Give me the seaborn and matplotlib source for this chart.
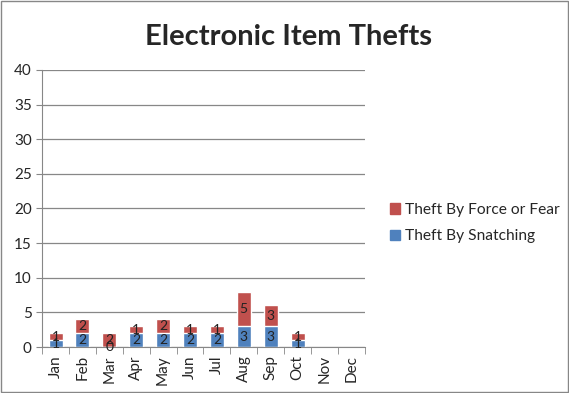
import numpy as np
import pandas as pd
import matplotlib
matplotlib.use("Agg")
import matplotlib.pyplot as plt
import seaborn as sns
from matplotlib.patches import Patch

months = ["Jan", "Feb", "Mar", "Apr", "May", "Jun", "Jul", "Aug", "Sep", "Oct", "Nov", "Dec"]
snatching = [1, 2, 0, 2, 2, 2, 2, 3, 3, 1, np.nan, np.nan]
force_fear = [1, 2, 2, 1, 2, 1, 1, 5, 3, 1, np.nan, np.nan]

df = pd.DataFrame({"month": months, "snatch": snatching, "force": force_fear})
df["total"] = df["snatch"] + df["force"]

sns.set_style("white")
plt.rcParams["font.family"] = ["Lato", "DejaVu Sans"]

fig = plt.figure(figsize=(5.69, 3.93), dpi=100)
ax = fig.add_axes([0.074, 0.117, 0.567, 0.705])

red = "#C0504D"
blue = "#4F81BD"

sns.barplot(data=df, x="month", y="total", color=red, width=0.52, saturation=1, ax=ax)
sns.barplot(data=df, x="month", y="snatch", color=blue, width=0.52, saturation=1, ax=ax)

# value labels centred in each segment
for i, m in enumerate(months):
    s = snatching[i]
    f = force_fear[i]
    if np.isnan(s):
        continue
    ax.text(i, s / 2, f"{int(s)}", ha="center", va="center", fontsize=10, color="#222222")
    ax.text(i, s + f / 2, f"{int(f)}", ha="center", va="center", fontsize=10, color="#222222")

ax.set_ylim(0, 40)
ax.set_xlim(-0.5, 11.5)
ax.set_yticks(range(0, 41, 5))
ax.yaxis.grid(True, color="#878787", linewidth=0.9)
ax.set_axisbelow(True)
ax.set_xlabel("")
ax.set_ylabel("")
ax.set_xticks(range(12))
ax.set_xticklabels(months, rotation=90, fontsize=11)
ax.tick_params(axis="y", labelsize=11, length=4, color="#878787", left=True)
ax.tick_params(axis="x", length=0, pad=6)
ax.set_xticks(np.arange(-0.5, 12, 1), minor=True)
ax.tick_params(axis="x", which="minor", length=5, color="#878787", bottom=True)
for side in ["top", "right"]:
    ax.spines[side].set_visible(False)
for side in ["left", "bottom"]:
    ax.spines[side].set_color("#878787")

fig.text(0.507, 0.907, "Electronic Item Thefts", ha="center", va="center",
         fontsize=21, fontweight="bold")

handles = [Patch(color=red, label="Theft By Force or Fear"),
           Patch(color=blue, label="Theft By Snatching")]
fig.legend(handles=handles, loc="center left", bbox_to_anchor=(0.66, 0.432),
           frameon=False, fontsize=11.2, handlelength=0.65, handleheight=0.65,
           handletextpad=0.35, labelspacing=0.8)

fig.patches.append(plt.Rectangle((0.002, 0.003), 0.996, 0.994, transform=fig.transFigure,
                                 fill=False, edgecolor="#878787", linewidth=1))

fig.savefig("out.png", dpi=100)
